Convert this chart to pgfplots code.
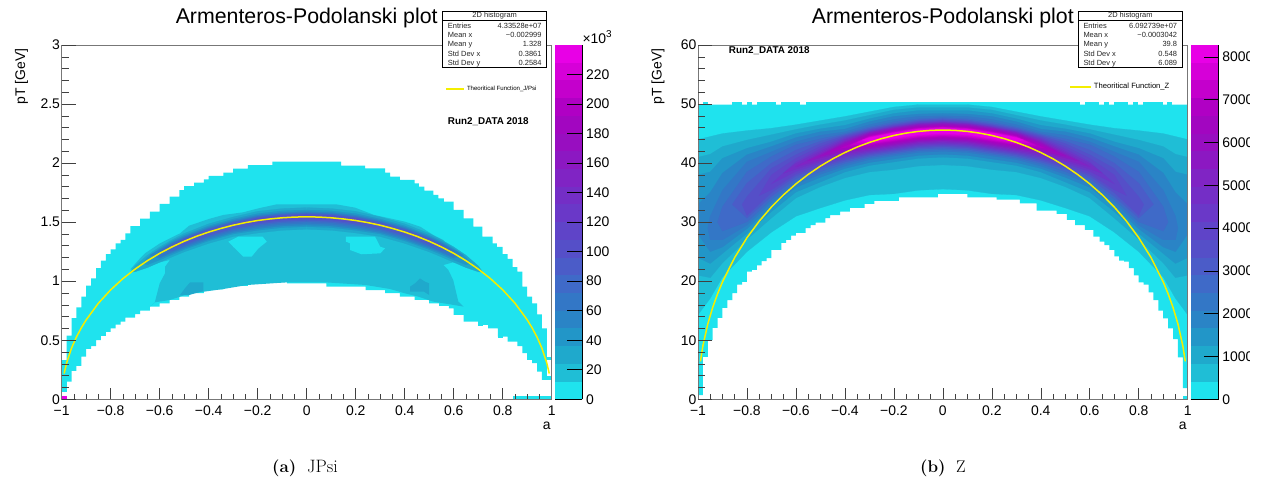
\documentclass[border=0pt]{standalone}
\usepackage{pgfplots}
\usepackage{fontspec}
\pgfplotsset{compat=1.18}
\newfontfamily\hv{Liberation Sans}
\definecolor{c0}{HTML}{1FE3EE}\definecolor{c1}{HTML}{1FBED6}\definecolor{c2}{HTML}{1FA9CC}\definecolor{c3}{HTML}{2296C8}
\definecolor{c4}{HTML}{2A84C6}\definecolor{c5}{HTML}{3377C6}\definecolor{c6}{HTML}{3F6AC8}\definecolor{c7}{HTML}{4B5CC8}
\definecolor{c8}{HTML}{554FC8}\definecolor{c9}{HTML}{5F44C8}\definecolor{c10}{HTML}{6A38C8}\definecolor{c11}{HTML}{742EC6}
\definecolor{c12}{HTML}{8024C4}\definecolor{c13}{HTML}{8C18C2}\definecolor{c14}{HTML}{980EC0}\definecolor{c15}{HTML}{A206C0}
\definecolor{c16}{HTML}{B000C4}\definecolor{c17}{HTML}{C400CC}\definecolor{c18}{HTML}{D600D8}\definecolor{c19}{HTML}{E800E6}
\definecolor{fr}{HTML}{777777}\definecolor{yel}{HTML}{F4EE00}
\newcommand{\sz}[1]{\fontsize{#1}{#1}\selectfont}
% mirrored half band: the points are listed for a>=0
\newcommand{\hb}[2]{%
 \addplot[fill=#1,draw=#1,line width=.2bp,forget plot] table[row sep=\\,x index=0,y index=1] {#2};
 \addplot[fill=#1,draw=#1,line width=.2bp,forget plot] table[row sep=\\,x expr=-\thisrowno{0},y index=1] {#2};}
\newcommand{\rc}[5]{\addplot[fill=#1,draw=none,forget plot] coordinates {(#2,#4)(#3,#4)(#3,#5)(#2,#5)};}
\pgfplotsset{
 base/.style={scale only axis,clip=true,tick align=inside,axis on top,width=490bp,height=354.3bp,anchor=south west,
  xmin=-1,xmax=1,ymin=0,
  axis line style={fr,line width=.9bp},tick style={black!75,line width=.6bp},
  ticklabel style={font=\hv\sz{14},inner xsep=1.5bp,inner ysep=0pt},
  /pgf/number format/assume math mode=true},
 xax/.style={base,ytick=\empty,xtick={-1,-0.8,-0.6,-0.4,-0.2,0,0.2,0.4,0.6,0.8,1},
  xticklabels={−1,−0.8,−0.6,−0.4,−0.2,0,0.2,0.4,0.6,0.8,1},minor x tick num=3,xtick pos=bottom,
  xticklabel style={yshift=-6bp},
  major tick length=11bp,minor tick length=5.3bp,
  title style={font=\hv\sz{21.4},at={(axis description cs:0.5,1)},anchor=base,yshift=16bp},
  xlabel style={font=\hv\sz{14},at={(axis description cs:0.99,0)},anchor=base,yshift=-30bp},
  ylabel style={font=\hv\sz{14},at={(axis description cs:-0.0745,1)},anchor=base east},
  legend cell align=left,legend image code/.code={\draw[#1] (0,0)--(18bp,0);}},
 yax/.style={base,xtick=\empty,ytick pos=left,minor y tick num=4,major tick length=14bp,minor tick length=7bp,axis line style={draw=none}},
 cb/.style={scale only axis,clip=true,axis on top,anchor=south west,height=354.3bp,xmin=0,xmax=1,ymin=0,xtick=\empty,
  axis y line=right,axis x line=bottom,axis line style={-,black,line width=.6bp},tick align=inside,major tick length=15bp,
  tick style={black,line width=.6bp},ticklabel style={font=\hv\sz{14},inner sep=0pt,xshift=3.5bp,anchor=west},
  /pgf/number format/assume math mode=true,/pgf/number format/1000 sep={}}
}
\newcommand{\statbox}[7]{% x, entries, mx, my, sx, sy
 \draw[black,line width=.7bp,fill=white] (#1bp,414bp) rectangle ++(104bp,56bp);
 \draw[black,line width=.7bp] (#1bp,461bp) -- ++(104bp,0);
 \node[font=\hv\sz{7.5},anchor=base,text=black!85] at ($(#1bp,463bp)+(52bp,0)$) {2D histogram};
 \foreach \yy/\la/\va in {452.3/Entries/#2,443/Mean x/#3,434.3/Mean y/#4,424.3/Std Dev x/#5,415.8/Std Dev y/#6}{
  \node[font=\hv\sz{7.5},anchor=base west,inner sep=0pt,text=black!85] at ($(#1bp,\yy bp)+(5bp,0)$) {\la};
  \node[font=\hv\sz{7.5},anchor=base east,inner sep=0pt,text=black!85] at ($(#1bp,\yy bp)+(99bp,0)$) {\va};}}
\usetikzlibrary{calc}
\begin{document}
\begin{tikzpicture}[x=1bp,y=1bp]
\path[use as bounding box] (0,0) rectangle (1263bp,481bp);
%%%%%%%%%%%%%%%%%% (a)
\begin{axis}[xax,at={(61.7bp,81.7bp)},ymax=3,title={Armenteros-Podolanski plot},xlabel={a},ylabel={pT [GeV]},
 legend style={draw=none,fill=none,at={(axis description cs:0.7829,0.876)},anchor=west,inner sep=0pt,font=\hv\sz{6.1},/tikz/every even column/.style={column sep=4bp}}]
% outer band
\addplot[const plot,fill=c0,draw=none,forget plot] coordinates {(-.98,.539)(-.96,.688)(-.94,.779)(-.92,.869)(-.9,.962)(-.88,1.024)(-.86,1.11)(-.84,1.174)(-.82,1.23)(-.8,1.27)(-.78,1.32)(-.76,1.349)(-.74,1.405)(-.72,1.467)(-.68,1.53)(-.64,1.59)(-.6,1.654)(-.56,1.716)(-.52,1.772)(-.5,1.806)(-.46,1.834)(-.42,1.863)(-.4,1.891)(-.34,1.92)(-.3,1.953)(-.24,1.983)(-.14,2.012)(.14,1.978)(.238,1.956)(.32,1.919)(.34,1.885)(.38,1.857)(.44,1.829)(.458,1.80)(.48,1.767)(.517,1.73)(.537,1.702)(.56,1.673)(.6,1.603)(.64,1.532)(.68,1.462)(.717,1.377)(.759,1.32)(.776,1.29)(.80,1.23)(.82,1.19)(.84,1.12)(.86,1.08)(.88,.953)(.90,.869)(.92,.813)(.94,.72)(.96,.6)(.98,.165)(.96,.234)(.94,.306)(.92,.333)(.90,.39)(.88,.451)(.86,.488)(.82,.53)(.78,.6)(.74,.63)(.7,.657)(.64,.714)(.6,.77)(.58,.79)(.54,.813)(.5,.841)(.44,.869)(.38,.898)(.32,.925)(.24,.953)(.08,.982)(-.08,.993)(-.24,.96)(-.34,.931)(-.42,.898)(-.48,.869)(-.52,.841)(-.56,.813)(-.6,.784)(-.64,.75)(-.68,.722)(-.7,.691)(-.74,.657)(-.76,.632)(-.78,.601)(-.8,.57)(-.82,.536)(-.84,.502)(-.86,.451)(-.88,.426)(-.9,.361)(-.92,.282)(-.94,.24)(-.96,.15)(-.98,.15)};
\rc{c0}{-1}{-.98}{.065}{.333}
\rc{c0}{.98}{1}{.165}{.2}
\rc{c0}{.98}{1}{.33}{.36}
\rc{c0}{.70}{.72}{.62}{.65}
\rc{c0}{.78}{.80}{.52}{.55}
\rc{c0}{.84}{1}{0}{.03}
\rc{c19}{-1}{-.98}{0}{.03}
% inner band
\addplot[fill=c1,draw=none,forget plot] coordinates {(-.64,.784)(-.62,.821)(-.6,.982)(-.578,1.067)(-.578,1.123)(-.558,1.18)(-.599,1.16)(-.7,1.09)(-.72,1.1)(-.68,1.194)(-.66,1.236)(-.599,1.321)(-.558,1.363)(-.517,1.405)(-.48,1.47)(-.399,1.527)(-.34,1.561)(-.26,1.583)(-.197,1.617)(-.122,1.651)(.12,1.651)(.197,1.623)(.24,1.589)(.275,1.561)(.34,1.532)(.401,1.504)(.463,1.462)(.517,1.391)(.558,1.349)(.578,1.278)(.64,1.194)(.68,1.151)(.72,1.08)(.64,1.15)(.598,1.16)(.558,1.137)(.578,1.095)(.598,1.01)(.619,.827)(.64,.785)(.517,.827)(.456,.869)(.401,.897)(.34,.934)(.24,.968)(.079,.99)(-.082,.99)(-.242,.968)(-.34,.934)(-.42,.911)(-.48,.897)(-.517,.869)(-.558,.841)(-.62,.821)};
\addplot[fill=c0,draw=none,forget plot] coordinates {(-.32,1.335)(-.279,1.377)(-.18,1.377)(-.163,1.335)(-.197,1.278)(-.225,1.208)(-.259,1.208)(-.3,1.292)};
\addplot[fill=c0,draw=none,forget plot] coordinates {(.16,1.377)(.279,1.377)(.3,1.292)(.32,1.278)(.3,1.236)(.224,1.228)(.177,1.264)(.177,1.321)(.16,1.335)};
\addplot[fill=c2,draw=none,forget plot] coordinates {(-.517,.883)(-.497,.94)(-.476,.99)(-.422,.99)(-.422,.917)(-.48,.883)};
\addplot[fill=c2,draw=none,forget plot] coordinates {(.422,.954)(.442,.982)(.462,1.024)(.483,.996)(.5,.982)(.5,.883)(.479,.911)(.422,.911)};
% ridge
\hb{c2}{0 1.623\\.1 1.615\\.2 1.592\\.3 1.544\\.4 1.486\\.5 1.404\\.55 1.35\\.6 1.29\\.65 1.22\\.7 1.13\\.72 1.075\\.7 1.08\\.65 1.115\\.6 1.16\\.55 1.205\\.5 1.248\\.4 1.32\\.3 1.378\\.2 1.408\\.1 1.431\\0 1.439\\}
\hb{c3}{0 1.603\\.1 1.595\\.2 1.572\\.3 1.526\\.4 1.468\\.5 1.388\\.55 1.338\\.6 1.276\\.65 1.2\\.67 1.15\\.65 1.14\\.6 1.18\\.55 1.225\\.5 1.268\\.4 1.342\\.3 1.4\\.2 1.431\\.1 1.454\\0 1.462\\}
\hb{c4}{0 1.589\\.1 1.581\\.2 1.558\\.3 1.514\\.4 1.456\\.5 1.376\\.55 1.326\\.6 1.266\\.64 1.22\\.6 1.195\\.55 1.24\\.5 1.28\\.4 1.354\\.3 1.412\\.2 1.445\\.1 1.468\\0 1.476\\}
\hb{c5}{0 1.58\\.1 1.572\\.2 1.549\\.3 1.505\\.4 1.447\\.5 1.368\\.55 1.318\\.6 1.256\\.61 1.226\\.6 1.206\\.55 1.25\\.5 1.292\\.4 1.367\\.3 1.425\\.2 1.459\\.1 1.482\\0 1.49\\}
\hb{c6}{0 1.575\\.1 1.567\\.2 1.544\\.3 1.5\\.4 1.442\\.5 1.362\\.55 1.312\\.59 1.265\\.55 1.257\\.5 1.302\\.4 1.379\\.3 1.437\\.2 1.473\\.1 1.496\\0 1.504\\}
\hb{c7}{0 1.569\\.1 1.561\\.2 1.538\\.3 1.495\\.4 1.437\\.5 1.358\\.55 1.305\\.56 1.28\\.5 1.312\\.4 1.389\\.3 1.447\\.2 1.484\\.1 1.507\\0 1.515\\}
\hb{c8}{0 1.563\\.1 1.555\\.2 1.532\\.3 1.48\\.2 1.496\\.1 1.519\\0 1.527\\}
\addplot[yel,line width=1.5bp] coordinates {(-.99,.218)(-.98,.307)(-.96,.433)(-.94,.527)(-.92,.605)(-.9,.673)(-.85,.814)(-.8,.927)(-.75,1.022)(-.7,1.103)(-.65,1.174)(-.6,1.236)(-.55,1.29)(-.5,1.338)(-.45,1.38)(-.4,1.416)(-.35,1.447)(-.3,1.474)(-.25,1.496)(-.2,1.514)(-.15,1.527)(-.1,1.537)(-.05,1.543)(0,1.545)(.05,1.543)(.1,1.537)(.15,1.527)(.2,1.514)(.25,1.496)(.3,1.474)(.35,1.447)(.4,1.416)(.45,1.38)(.5,1.338)(.55,1.29)(.6,1.236)(.65,1.174)(.7,1.103)(.75,1.022)(.8,.927)(.85,.814)(.9,.673)(.92,.605)(.94,.527)(.96,.433)(.98,.307)(.99,.218)};
\addlegendentry{Theoritical Function\_J/Psi}
\end{axis}
\begin{axis}[yax,at={(61.7bp,81.7bp)},ymax=3,ytick={0,0.5,1,1.5,2,2.5,3},yticklabels={0,0.5,1,1.5,2,2.5,3}]
\end{axis}
\begin{axis}[cb,at={(555bp,81.7bp)},width=27.3bp,ymax=240,ytick={0,20,...,220}]
\rc{c0}{0}{1}{0}{12}\rc{c1}{0}{1}{12}{24}\rc{c2}{0}{1}{24}{36}\rc{c3}{0}{1}{36}{48}\rc{c4}{0}{1}{48}{60}
\rc{c5}{0}{1}{60}{72}\rc{c6}{0}{1}{72}{84}\rc{c7}{0}{1}{84}{96}\rc{c8}{0}{1}{96}{108}\rc{c9}{0}{1}{108}{120}
\rc{c10}{0}{1}{120}{132}\rc{c11}{0}{1}{132}{144}\rc{c12}{0}{1}{144}{156}\rc{c13}{0}{1}{156}{168}\rc{c14}{0}{1}{168}{180}
\rc{c15}{0}{1}{180}{192}\rc{c16}{0}{1}{192}{204}\rc{c17}{0}{1}{204}{216}\rc{c18}{0}{1}{216}{228}\rc{c19}{0}{1}{228}{240}
\end{axis}
\node[font=\hv\sz{14},anchor=base west,inner sep=0pt] at (582.3bp,437.7bp) {×10\raisebox{6bp}{\sz{10}3}};
\node[font=\hv\bfseries\sz{9.9},anchor=base west,inner sep=0pt] at (447.7bp,356.5bp) {Run2\_DATA 2018};
\statbox{442.7}{4.33528e+07}{−0.002999}{1.328}{0.3861}{0.2584}{}
\node[font=\bfseries\sz{17},anchor=base west,inner sep=0pt] at (272bp,9bp) {\addfontfeature{LetterSpace=3}(a)};
\node[font=\sz{18},anchor=base west,inner sep=0pt] at (307bp,9bp) {\addfontfeature{LetterSpace=14}JPsi};
%%%%%%%%%%%%%%%%%% (b)
\begin{axis}[xax,at={(698bp,81.7bp)},width=489.7bp,ymax=60,title={Armenteros-Podolanski plot},xlabel={a},ylabel={pT [GeV]},
 legend image code/.code={\draw[#1] (0,0)--(21bp,0);},
 legend style={draw=none,fill=none,at={(axis description cs:0.7582,0.8815)},anchor=west,inner sep=0pt,font=\hv\sz{7.65},/tikz/every even column/.style={column sep=5bp}}]
\addplot[const plot,fill=c0,draw=none,forget plot] coordinates {(-1,.7)(-.98,7.2)(-.96,10)(-.94,12.1)(-.92,13.8)(-.9,15.5)(-.88,16.8)(-.86,18)(-.84,19.4)(-.82,19.9)(-.8,21.6)(-.78,21.9)(-.76,22.7)(-.74,23.4)(-.72,23.9)(-.7,25.3)(-.66,26.5)(-.64,27)(-.62,27.7)(-.6,28.2)(-.56,29)(-.54,29.5)(-.52,29.9)(-.48,30.7)(-.46,31.2)(-.42,31.8)(-.38,32.4)(-.32,33.1)(-.28,33.6)(-.18,34.2)(-.02,34.8)(.1,34.2)(.22,33.8)(.315,33.2)(.383,31.95)(.465,31.4)(.506,30.4)(.54,29.5)(.58,28.7)(.615,27.55)(.64,26.7)(.66,26.1)(.68,25.3)(.7,24.2)(.72,23.5)(.74,23.3)(.76,22.2)(.78,21)(.8,19.8)(.82,19.4)(.84,18.1)(.86,16.8)(.88,15)(.9,13.7)(.92,12)(.94,10.2)(.96,7.1)(.98,1.9)(1,1.9)(1,49.9)(-1,49.9)};
\rc{c0}{.98}{1}{0}{.6}
\rc{c0}{-.981}{-.96}{49.8}{50.4}\rc{c0}{-.862}{-.821}{49.8}{50.4}\rc{c0}{-.80}{-.78}{49.8}{50.4}\rc{c0}{-.76}{-.68}{49.8}{50.4}\rc{c0}{-.66}{-.583}{49.8}{50.4}\rc{c0}{-.56}{.56}{49.8}{50.4}\rc{c0}{.58}{.639}{49.8}{50.4}\rc{c0}{.658}{.678}{49.8}{50.4}\rc{c0}{.699}{.757}{49.8}{50.4}\rc{c0}{.778}{.798}{49.8}{50.4}\rc{c0}{.819}{.9}{49.8}{50.4}\rc{c0}{.917}{.937}{49.8}{50.4}
\hb{c1}{0 49.9\\.1 49.9\\.2 49.5\\.3 48.7\\.4 47.9\\.5 47.2\\.6 46.5\\.7 45.9\\.8 45.5\\.9 45\\.95 44.5\\1 44\\1 14.3\\.95 17.1\\.9 20.7\\.8 25\\.7 28.3\\.6 31\\.5 32.4\\.4 33.7\\.3 34.6\\.2 34.8\\.1 35.4\\0 35.6\\}
\hb{c2}{0 49.4\\.1 49.4\\.2 49\\.3 48.1\\.4 47.2\\.5 46.5\\.6 45.7\\.7 44.8\\.8 43.9\\.9 42.8\\.95 41.5\\1 41\\1 21\\.95 20.6\\.9 23.1\\.8 27.1\\.7 30.7\\.6 34.1\\.5 36\\.4 37.5\\.3 38.5\\.2 38.9\\.1 39.5\\0 39.7\\}
\hb{c3}{0 48.9\\.1 48.9\\.2 48.4\\.3 47.5\\.4 46.4\\.5 45.8\\.6 45\\.7 43.6\\.8 42.5\\.9 40.8\\.95 38.5\\1 38\\1 24\\.95 23\\.9 24.7\\.8 28.1\\.7 31.8\\.6 35.1\\.5 36.8\\.4 38.5\\.3 39.6\\.2 40.2\\.1 40.8\\0 41\\}
\hb{c4}{0 48.4\\.1 48.3\\.2 47.9\\.3 47\\.4 45.75\\.5 45.3\\.6 44.3\\.7 42.8\\.8 41.4\\.9 38.3\\.95 35\\1 33\\1 28\\.95 25\\.9 25.8\\.8 28.9\\.7 32.7\\.6 35.9\\.5 37.6\\.4 39.1\\.3 40.1\\.2 40.7\\.1 41.3\\0 41.5\\}
\hb{c5}{0 48\\.1 47.9\\.2 47.4\\.3 46.5\\.4 45.3\\.5 44.7\\.6 43.6\\.7 41.9\\.8 40.2\\.9 35.4\\.95 31\\.96 29\\.95 27\\.9 27\\.8 29.5\\.7 33.4\\.6 36.5\\.5 38.1\\.4 39.5\\.3 40.6\\.2 41.2\\.1 41.8\\0 42\\}
\hb{c6}{0 47.7\\.1 47.5\\.2 47\\.3 46.1\\.4 45\\.5 44.1\\.6 43.1\\.7 41.1\\.8 38.5\\.9 32.6\\.92 30\\.9 28.5\\.8 30.05\\.7 33.9\\.6 37\\.5 38.55\\.4 39.9\\.3 40.9\\.2 41.5\\.1 42.1\\0 42.3\\}
\hb{c7}{0 47.5\\.1 47.3\\.2 46.7\\.3 45.9\\.4 44.8\\.5 43.7\\.6 42.2\\.7 40\\.8 36.6\\.86 33\\.8 30.7\\.7 34.4\\.6 37.4\\.5 39\\.4 40.2\\.3 41.15\\.2 41.75\\.1 42.35\\0 42.55\\}
\hb{c8}{0 47.3\\.1 47.1\\.2 46.5\\.3 45.7\\.4 44.6\\.5 43.3\\.6 41.4\\.7 39.1\\.8 34.3\\.82 33\\.8 31.15\\.7 35\\.6 37.85\\.5 39.3\\.4 40.5\\.3 41.4\\.2 42\\.1 42.6\\0 42.8\\}
\hb{c9}{0 47.15\\.1 46.95\\.2 46.35\\.3 45.55\\.4 44.4\\.5 42.8\\.6 40.8\\.7 38\\.75 34.5\\.7 35.5\\.6 38.2\\.5 39.6\\.4 40.75\\.3 41.6\\.2 42.2\\.1 42.8\\0 43\\}
\hb{c10}{0 47\\.1 46.8\\.2 46.2\\.3 45.4\\.4 44.2\\.5 42.4\\.6 40.2\\.7 36.5\\.6 38.6\\.5 39.95\\.4 41\\.3 41.8\\.2 42.4\\.1 43\\0 43.2\\}
\hb{c11}{0 46.9\\.1 46.7\\.2 46.1\\.3 45.3\\.4 44\\.5 42\\.6 39.9\\.65 38.3\\.6 39\\.5 40.3\\.4 41.3\\.3 42\\.2 42.6\\.1 43.2\\0 43.4\\}
\hb{c12}{0 46.8\\.1 46.6\\.2 46\\.3 45.2\\.4 43.8\\.5 41.7\\.6 39.4\\.5 40.55\\.4 41.6\\.3 42.2\\.2 42.8\\.1 43.4\\0 43.6\\}
\hb{c13}{0 46.7\\.1 46.5\\.2 45.9\\.3 45.1\\.4 43.6\\.5 41.45\\.55 40.4\\.5 40.9\\.4 41.9\\.3 42.4\\.2 43\\.1 43.6\\0 43.8\\}
\hb{c14}{0 46.55\\.1 46.35\\.2 45.75\\.3 44.95\\.4 43.4\\.5 41.2\\.4 42.1\\.3 42.6\\.2 43.2\\.1 43.8\\0 44\\}
\hb{c15}{0 46.4\\.1 46.2\\.2 45.6\\.3 44.8\\.4 43.2\\.46 42\\.4 42.3\\.3 42.8\\.2 43.4\\.1 44\\0 44.2\\}
\hb{c16}{0 46.25\\.1 46.05\\.2 45.45\\.3 44.65\\.42 42.5\\.3 43\\.2 43.6\\.1 44.2\\0 44.4\\}
\hb{c17}{0 46.1\\.1 45.9\\.2 45.3\\.3 44.5\\.38 43\\.3 43.2\\.2 43.8\\.1 44.4\\0 44.6\\}
\hb{c18}{0 46\\.1 45.8\\.2 45.2\\.3 44.4\\.35 43.5\\.3 43.4\\.2 44\\.1 44.6\\0 44.8\\}
\hb{c19}{0 45.9\\.1 45.7\\.2 45.1\\.3 44.3\\.33 43.9\\.3 43.6\\.2 44.2\\.1 44.8\\0 45\\}
\addplot[yel,line width=1.5bp] coordinates {(-.99,6.43)(-.98,9.07)(-.96,12.77)(-.94,15.56)(-.92,17.87)(-.9,19.88)(-.85,24.02)(-.8,27.36)(-.75,30.16)(-.7,32.57)(-.65,34.65)(-.6,36.48)(-.55,38.08)(-.5,39.49)(-.45,40.72)(-.4,41.79)(-.35,42.72)(-.3,43.5)(-.25,44.15)(-.2,44.68)(-.15,45.08)(-.1,45.37)(-.05,45.54)(0,45.6)(.05,45.54)(.1,45.37)(.15,45.08)(.2,44.68)(.25,44.15)(.3,43.5)(.35,42.72)(.4,41.79)(.45,40.72)(.5,39.49)(.55,38.08)(.6,36.48)(.65,34.65)(.7,32.57)(.75,30.16)(.8,27.36)(.85,24.02)(.9,19.88)(.92,17.87)(.94,15.56)(.96,12.77)(.98,9.07)(.99,6.43)};
\addlegendentry{Theoritical Function\_Z}
\end{axis}
\begin{axis}[yax,at={(698bp,81.7bp)},width=489.7bp,ymax=60,ytick={0,10,...,60}]
\end{axis}
\begin{scope}
\clip (1180bp,0) rectangle (1249bp,481bp);
\begin{axis}[cb,at={(1190.7bp,81.7bp)},width=28bp,ymax=8280,ytick={0,1000,...,8000}]
\rc{c0}{0}{1}{0}{414}\rc{c1}{0}{1}{414}{828}\rc{c2}{0}{1}{828}{1242}\rc{c3}{0}{1}{1242}{1656}\rc{c4}{0}{1}{1656}{2070}
\rc{c5}{0}{1}{2070}{2484}\rc{c6}{0}{1}{2484}{2898}\rc{c7}{0}{1}{2898}{3312}\rc{c8}{0}{1}{3312}{3726}\rc{c9}{0}{1}{3726}{4140}
\rc{c10}{0}{1}{4140}{4554}\rc{c11}{0}{1}{4554}{4968}\rc{c12}{0}{1}{4968}{5382}\rc{c13}{0}{1}{5382}{5796}\rc{c14}{0}{1}{5796}{6210}
\rc{c15}{0}{1}{6210}{6624}\rc{c16}{0}{1}{6624}{7038}\rc{c17}{0}{1}{7038}{7452}\rc{c18}{0}{1}{7452}{7866}\rc{c19}{0}{1}{7866}{8280}
\end{axis}
\end{scope}
\node[font=\hv\bfseries\sz{9.9},anchor=base west,inner sep=0pt] at (728.7bp,427bp) {Run2\_DATA 2018};
\statbox{1078.3}{6.092739e+07}{−0.0003042}{39.8}{0.548}{6.089}{}
\node[font=\bfseries\sz{17},anchor=base west,inner sep=0pt] at (920bp,9bp) {\addfontfeature{LetterSpace=3}(b)};
\node[font=\sz{17},anchor=base west,inner sep=0pt] at (956bp,9bp) {Z};
\end{tikzpicture}
\end{document}
